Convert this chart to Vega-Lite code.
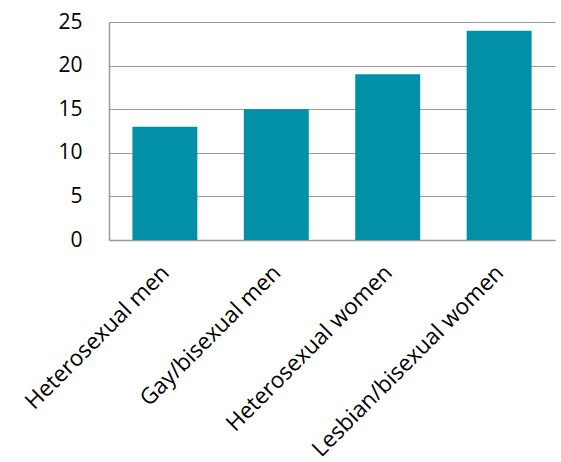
{
  "$schema": "https://vega.github.io/schema/vega-lite/v6.json",
  "autosize": {"type": "none"},
  "padding": {"left": 109, "top": 22, "right": 6, "bottom": 222},
  "width": 446,
  "height": 218,
  "background": "white",
  "data": {"values": [
    {"group": "Heterosexual men", "value": 13},
    {"group": "Gay/bisexual men", "value": 15},
    {"group": "Heterosexual women", "value": 19},
    {"group": "Lesbian/bisexual women", "value": 24}
  ]},
  "mark": {"type": "bar", "color": "#028FA8"},
  "encoding": {
    "x": {
      "field": "group", "type": "nominal", "sort": null,
      "scale": {"paddingInner": 0.417, "paddingOuter": 0.21},
      "axis": {
        "title": null, "labelAngle": -45, "labelFont": "Open Sans", "labelFontSize": 22.5,
        "labelColor": "black", "ticks": false, "domainColor": "#999999", "domainWidth": 1.5,
        "labelPadding": 21, "labelOffset": -7, "labelLimit": 400
      }
    },
    "y": {
      "field": "value", "type": "quantitative",
      "scale": {"domain": [0, 25]},
      "axis": {
        "title": null, "values": [0, 5, 10, 15, 20, 25], "labelFont": "Open Sans", "labelFontSize": 21,
        "labelColor": "black", "ticks": false, "domainColor": "#999999", "domainWidth": 1.5,
        "gridColor": "#999999", "gridWidth": 1.2, "labelPadding": 27
      }
    }
  },
  "config": {"view": {"stroke": null}}
}
